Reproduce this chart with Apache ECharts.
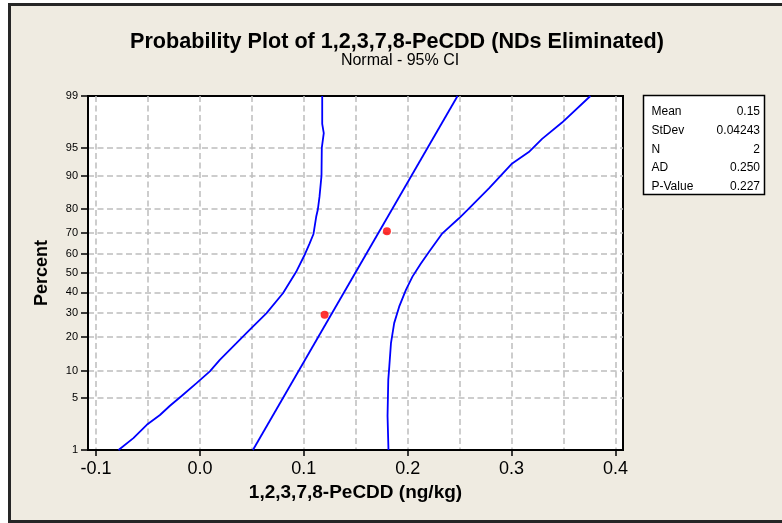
<!DOCTYPE html>
<html>
<head>
<meta charset="utf-8">
<script src="https://cdn.jsdelivr.net/npm/echarts@6/dist/echarts.min.js"></script>
<style>
html, body { margin: 0; padding: 0; background: #fff; }
#frame { position: absolute; left: 8px; top: 3px; width: 800px; height: 514px; border: 3px solid #262626; background: #efebe1; }
#main { position: absolute; left: 0; top: 0; width: 782px; height: 523px; }
</style>
</head>
<body>
<div id="frame"></div>
<div id="main"></div>
<script>
// axis ticks
var percentTicks = [1, 5, 10, 20, 30, 40, 50, 60, 70, 80, 90, 95, 99];
var xTicks = [-0.1, 0.0, 0.1, 0.2, 0.3, 0.4];
var xGridLines = [-0.1, -0.05, 0, 0.05, 0.1, 0.15, 0.2, 0.25, 0.3, 0.35, 0.4];

// observations
var obsX = [0.12, 0.18];
var obsPct = [29.17, 70.83];

// fitted line
var fitX = [0.051, 0.248];
var fitPct = [1, 99];

// lower 95% CI band
var lowX = [-0.0784, -0.0641, -0.0512, -0.0385, -0.0289, -0.0177, -0.0033, 0.0095, 0.0191, 0.0351, 0.0495, 0.0639, 0.0799, 0.0925, 0.1013, 0.1055, 0.1093, 0.1119, 0.1135, 0.1151, 0.117, 0.1173, 0.1192, 0.1177, 0.1177];
var lowPct = [1, 1.5, 2.3, 3.1, 4.05, 5.3, 7.4, 9.8, 12.7, 17.8, 23.4, 29.8, 39.5, 50.5, 60, 65, 69.6, 77, 79.8, 84.2, 89.9, 95, 96.7, 97.5, 99];

// upper 95% CI band
var upX = [0.1815, 0.1806, 0.1813, 0.1823, 0.1839, 0.187, 0.1918, 0.1983, 0.2046, 0.2127, 0.2206, 0.2334, 0.2494, 0.2574, 0.2782, 0.3006, 0.3166, 0.3294, 0.3486, 0.3759];
var upPct = [1, 3, 8, 11, 17.8, 25.5, 32.9, 41.2, 48.1, 55, 61, 69.9, 76.4, 79.6, 86.7, 92.5, 94.4, 96.1, 97.6, 99];

// stats table
var statNames = ['Mean', 'StDev', 'N', 'AD', 'P-Value'];
var statValues = ['0.15', '0.04243', '2', '0.250', '0.227'];

// inverse normal cdf (Acklam) - used for the probability scale
function probit(p) {
    var a = [-3.969683028665376e+01, 2.209460984245205e+02, -2.759285104469687e+02, 1.383577518672690e+02, -3.066479806614716e+01, 2.506628277459239e+00];
    var b = [-5.447609879822406e+01, 1.615858368580409e+02, -1.556989798598866e+02, 6.680131188771972e+01, -1.328068155288572e+01];
    var c = [-7.784894002430293e-03, -3.223964580411365e-01, -2.400758277161838e+00, -2.549732539343734e+00, 4.374664141464968e+00, 2.938163982698783e+00];
    var d = [7.784695709041462e-03, 3.224671290700398e-01, 2.445134137142996e+00, 3.754408661907416e+00];
    var pl = 0.02425, q, r;
    if (p < pl) {
        q = Math.sqrt(-2 * Math.log(p));
        return (((((c[0]*q+c[1])*q+c[2])*q+c[3])*q+c[4])*q+c[5]) / ((((d[0]*q+d[1])*q+d[2])*q+d[3])*q+1);
    }
    if (p > 1 - pl) {
        q = Math.sqrt(-2 * Math.log(1 - p));
        return -(((((c[0]*q+c[1])*q+c[2])*q+c[3])*q+c[4])*q+c[5]) / ((((d[0]*q+d[1])*q+d[2])*q+d[3])*q+1);
    }
    q = p - 0.5;
    r = q * q;
    return (((((a[0]*r+a[1])*r+a[2])*r+a[3])*r+a[4])*r+a[5])*q / (((((b[0]*r+b[1])*r+b[2])*r+b[3])*r+b[4])*r+1);
}
function toZ(pct) { return probit(pct / 100); }
function pairs(xs, ps) {
    return xs.map(function (x, i) { return [x, toZ(ps[i])]; });
}

var zTicks = percentTicks.map(toZ);
var FONT = '"Liberation Sans", Arial, sans-serif';
var xMin = -0.1078, xMax = 0.4073;

var myChart = echarts.init(document.getElementById('main'));

var graphics = [
    {
        type: 'text', x: 397, y: 42,
        style: { text: 'Probability Plot of 1,2,3,7,8-PeCDD (NDs Eliminated)', fontFamily: FONT, fontSize: 21.6, fontWeight: 'bold', fill: '#000', align: 'center', verticalAlign: 'middle' }
    },
    {
        type: 'text', x: 400, y: 61,
        style: { text: 'Normal - 95% CI', fontFamily: FONT, fontSize: 16, fill: '#000', align: 'center', verticalAlign: 'middle' }
    },
    {
        type: 'rect',
        shape: { x: 643.5, y: 95.5, width: 121, height: 99 },
        style: { fill: '#fff', stroke: '#000', lineWidth: 1.5 }
    }
];
statNames.forEach(function (name, i) {
    graphics.push({
        type: 'text', x: 651.5, y: 111.7 + i * 18.75,
        style: { text: name, fontFamily: FONT, fontSize: 12, fill: '#000', align: 'left', verticalAlign: 'middle' }
    });
    graphics.push({
        type: 'text', x: 760, y: 111.7 + i * 18.75,
        style: { text: statValues[i], fontFamily: FONT, fontSize: 12, fill: '#000', align: 'right', verticalAlign: 'middle' }
    });
});

var option = {
    animation: false,
    backgroundColor: 'transparent',
    textStyle: { fontFamily: FONT },
    graphic: graphics,
    grid: {
        left: 88, top: 96, width: 535, height: 354,
        show: true, backgroundColor: '#fff', borderColor: '#000', borderWidth: 2
    },
    xAxis: [
        {
            type: 'value', min: xMin, max: xMax, position: 'bottom',
            name: '1,2,3,7,8-PeCDD (ng/kg)', nameLocation: 'middle', nameGap: 33,
            nameTextStyle: { fontFamily: FONT, fontSize: 19, fontWeight: 'bold', color: '#000' },
            axisLine: { show: true, onZero: false, lineStyle: { color: '#000', width: 2 } },
            axisTick: { show: true, length: 6, customValues: xTicks, lineStyle: { color: '#000', width: 1.5 } },
            axisLabel: {
                customValues: xTicks, fontFamily: FONT, fontSize: 18, color: '#000', margin: 10,
                formatter: function (v) { return v.toFixed(1); }
            },
            splitLine: { show: false }
        },
        {
            type: 'value', min: xMin, max: xMax, position: 'top',
            axisLine: { show: false },
            axisTick: { show: false, customValues: xGridLines },
            axisLabel: { show: false, customValues: xGridLines },
            splitLine: { show: true, lineStyle: { color: '#bdbdbd', width: 1.5, type: [6, 3.5] } }
        }
    ],
    yAxis: {
        type: 'value', min: zTicks[0], max: zTicks[zTicks.length - 1],
        name: 'Percent', nameLocation: 'middle', nameGap: 37, nameRotate: 90,
        nameTextStyle: { fontFamily: FONT, fontSize: 18, fontWeight: 'bold', color: '#000' },
        axisLine: { show: true, onZero: false, lineStyle: { color: '#000', width: 2 } },
        axisTick: { show: true, length: 7, customValues: zTicks, lineStyle: { color: '#000', width: 1.5 } },
        axisLabel: {
            customValues: zTicks, fontFamily: FONT, fontSize: 11, color: '#000', margin: 10,
            formatter: function (v) {
                for (var i = 0; i < zTicks.length; i++) {
                    if (Math.abs(zTicks[i] - v) < 1e-6) return String(percentTicks[i]);
                }
                return '';
            }
        },
        splitLine: { show: true, showMinLine: false, showMaxLine: false, lineStyle: { color: '#bdbdbd', width: 1.5, type: [6, 3.5] } }
    },
    series: [
        {
            name: 'Lower CI', type: 'line', xAxisIndex: 0, data: pairs(lowX, lowPct),
            symbol: 'none', lineStyle: { color: '#0000ff', width: 1.8 }, z: 3
        },
        {
            name: 'Upper CI', type: 'line', xAxisIndex: 0, data: pairs(upX, upPct),
            symbol: 'none', lineStyle: { color: '#0000ff', width: 1.8 }, z: 3
        },
        {
            name: 'Fit', type: 'line', xAxisIndex: 0, data: pairs(fitX, fitPct),
            symbol: 'none', lineStyle: { color: '#0000ff', width: 1.8 }, z: 3
        },
        {
            name: 'Data', type: 'scatter', xAxisIndex: 0, data: pairs(obsX, obsPct),
            symbol: 'circle', symbolSize: 8, itemStyle: { color: '#ff0000' }, z: 4
        }
    ]
};
myChart.setOption(option);
window.addEventListener('resize', function () {
    myChart.resize();
});
</script>
</body>
</html>
